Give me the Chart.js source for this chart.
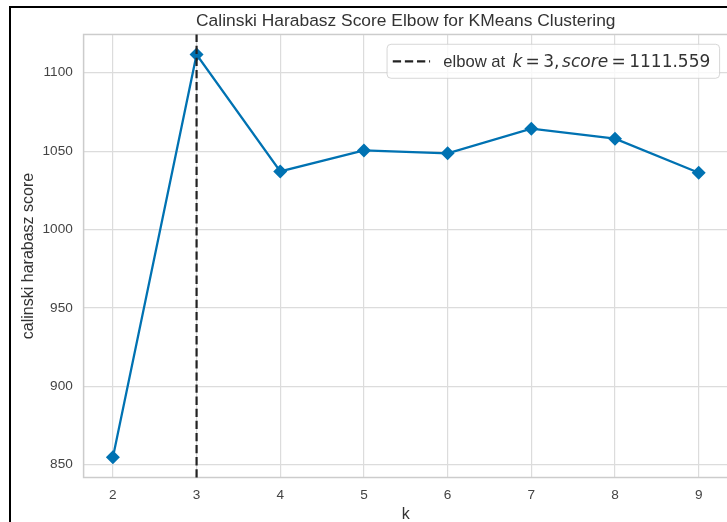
<!DOCTYPE html>
<html>
<head>
<meta charset="utf-8">
<title>Calinski Harabasz Score Elbow</title>
<script src="https://cdn.jsdelivr.net/npm/chart.js@4.4.1/dist/chart.umd.min.js"></script>
<style>
  html, body { margin: 0; padding: 0; background: #fff; overflow: hidden; }
  #wrap { position: relative; width: 727px; height: 522px; overflow: hidden; }
  #wrap canvas { position: absolute; left: 0; top: 0; }
  /* black page frame on the left and top */
  #frame { position: absolute; left: 9px; top: 6px; right: -10px; bottom: -10px;
           border-left: 2px solid #000; border-top: 2px solid #000; pointer-events: none; }
</style>
</head>
<body>
<div id="wrap">
  <canvas id="chart" width="735" height="524"></canvas>
  <div id="frame"></div>
</div>
<script>
  // k values tried and the calinski harabasz score for each
  const ks = [2, 3, 4, 5, 6, 7, 8, 9];
  const scores = [854.6, 1111.559, 1037.0, 1050.4, 1048.6, 1064.3, 1057.9, 1036.2];
  const elbowK = 3;
  const elbowScore = 1111.559;
  const xTicks = [2, 3, 4, 5, 6, 7, 8, 9];
  const yTicks = [850, 900, 950, 1000, 1050, 1100];

  const SANS = '"Liberation Sans", Arial, sans-serif';
  const MATH = '"DejaVu Sans", sans-serif';
  const LINE_BLUE = '#0072B2';
  const GRID = '#dcdcdc';
  const DASH = [8.3, 3.8];

  // 5% margins on each side, like the usual autoscaling
  function padRange(lo, hi){
    const m = (hi - lo) * 0.05;
    return [lo - m, hi + m];
  }
  const [xMin, xMax] = padRange(Math.min(...ks), Math.max(...ks));
  const [yMin, yMax] = padRange(Math.min(...scores), Math.max(...scores));

  // light frame around the plot area
  const plotFrame = {
    id: 'plotFrame',
    beforeDatasetsDraw(chart){
      const {ctx, chartArea: a} = chart;
      ctx.save();
      ctx.strokeStyle = '#cccccc';
      ctx.lineWidth = 1.5;
      ctx.strokeRect(a.left, a.top, a.right - a.left, a.bottom - a.top);
      ctx.restore();
    }
  };

  // vertical dashed line at the elbow
  const elbowLine = {
    id: 'elbowLine',
    afterDatasetsDraw(chart){
      const {ctx, chartArea: a, scales} = chart;
      const x = scales.x.getPixelForValue(elbowK);
      ctx.save();
      ctx.strokeStyle = '#222';
      ctx.lineWidth = 2.2;
      ctx.setLineDash(DASH);
      ctx.beginPath();
      ctx.moveTo(x, a.bottom);
      ctx.lineTo(x, a.top);
      ctx.stroke();
      ctx.restore();
    }
  };

  // legend with the math-style label: elbow at k = 3, score = 1111.559
  const elbowLegend = {
    id: 'elbowLegend',
    afterDraw(chart){
      const {ctx, chartArea: a} = chart;
      const fs = 16.6;
      const ms = 17;
      const parts = [
        { t: 'elbow at', f: `${fs}px ${SANS}`, gap: 0 },
        { t: 'k', f: `italic ${ms}px ${MATH}`, gap: 7.2 },
        { t: '=', f: `${ms}px ${MATH}`, gap: 3.4 },
        { t: String(elbowK), f: `${ms}px ${MATH}`, gap: 3.4 },
        { t: ',', f: `${ms}px ${MATH}`, gap: 0 },
        { t: 'score', f: `italic ${ms}px ${MATH}`, gap: 2.6 },
        { t: '=', f: `${ms}px ${MATH}`, gap: 3.4 },
        { t: elbowScore.toFixed(3), f: `${ms}px ${MATH}`, gap: 3.4 }
      ];
      ctx.save();
      let textW = 0;
      for (const p of parts){
        ctx.font = p.f;
        p.w = ctx.measureText(p.t).width;
        textW += p.gap + p.w;
      }
      const right = a.right - 8.4;
      const top = a.top + 9.8;
      const h = 34;
      const left = right - (56.3 + textW + 9.3);

      ctx.beginPath();
      ctx.roundRect(left, top, right - left, h, 4);
      ctx.fillStyle = 'rgba(255,255,255,0.8)';
      ctx.fill();
      ctx.strokeStyle = 'rgba(204,204,204,0.8)';
      ctx.lineWidth = 1;
      ctx.stroke();

      const midY = top + h / 2;
      ctx.strokeStyle = '#222';
      ctx.lineWidth = 2.2;
      ctx.setLineDash(DASH);
      ctx.beginPath();
      ctx.moveTo(left + 5.7, midY);
      ctx.lineTo(left + 43, midY);
      ctx.stroke();
      ctx.setLineDash([]);

      ctx.fillStyle = '#333';
      ctx.textBaseline = 'alphabetic';
      ctx.textAlign = 'left';
      let x = left + 56.3;
      const base = midY + 6;
      for (const p of parts){
        x += p.gap;
        ctx.font = p.f;
        ctx.fillText(p.t, x, base);
        x += p.w;
      }
      ctx.restore();
    }
  };

  const ctx = document.getElementById('chart').getContext('2d');
  new Chart(ctx, {
    type: 'line',
    data: {
      datasets: [{
        label: 'calinski harabasz score',
        data: ks.map((k, i) => ({ x: k, y: scores[i] })),
        borderColor: LINE_BLUE,
        backgroundColor: LINE_BLUE,
        borderWidth: 2.3,
        tension: 0,
        pointStyle: 'rectRot',
        pointRadius: 7,
        pointBorderWidth: 0,
        pointBackgroundColor: LINE_BLUE
      }]
    },
    options: {
      responsive: false,
      animation: false,
      events: [],
      layout: { padding: { left: 0, right: 3.3, top: 0, bottom: 0 } },
      plugins: {
        legend: { display: false },
        tooltip: { enabled: false },
        title: {
          display: true,
          text: 'Calinski Harabasz Score Elbow for KMeans Clustering',
          fullSize: false,
          color: '#333',
          font: { family: SANS, size: 17.4, weight: 'normal' },
          padding: { top: 10.6, bottom: 3 }
        }
      },
      scales: {
        x: {
          type: 'linear',
          min: xMin,
          max: xMax,
          afterBuildTicks: s => { s.ticks = xTicks.map(v => ({ value: v })); },
          afterFit: s => { s.height = 46.5; },
          grid: { color: GRID, lineWidth: 1.2, drawTicks: false },
          border: { display: false },
          ticks: { color: '#444', padding: 9.5, font: { family: SANS, size: 13.6 },
                   callback: v => String(v) },
          title: { display: true, text: 'k', color: '#333', padding: { top: 0, bottom: 0 },
                   font: { family: SANS, size: 16 } }
        },
        y: {
          type: 'linear',
          min: yMin,
          max: yMax,
          afterBuildTicks: s => { s.ticks = yTicks.map(v => ({ value: v })); },
          afterFit: s => { s.width = 83.6; },
          grid: { color: GRID, lineWidth: 1.2, drawTicks: false },
          border: { display: false },
          ticks: { color: '#444', padding: 10.8, font: { family: SANS, size: 13.6 },
                   callback: v => String(v) },
          title: { display: true, text: 'calinski harabasz score', color: '#333',
                   padding: { top: 19, bottom: 0 }, font: { family: SANS, size: 16 } }
        }
      }
    },
    plugins: [plotFrame, elbowLine, elbowLegend]
  });
</script>
</body>
</html>
